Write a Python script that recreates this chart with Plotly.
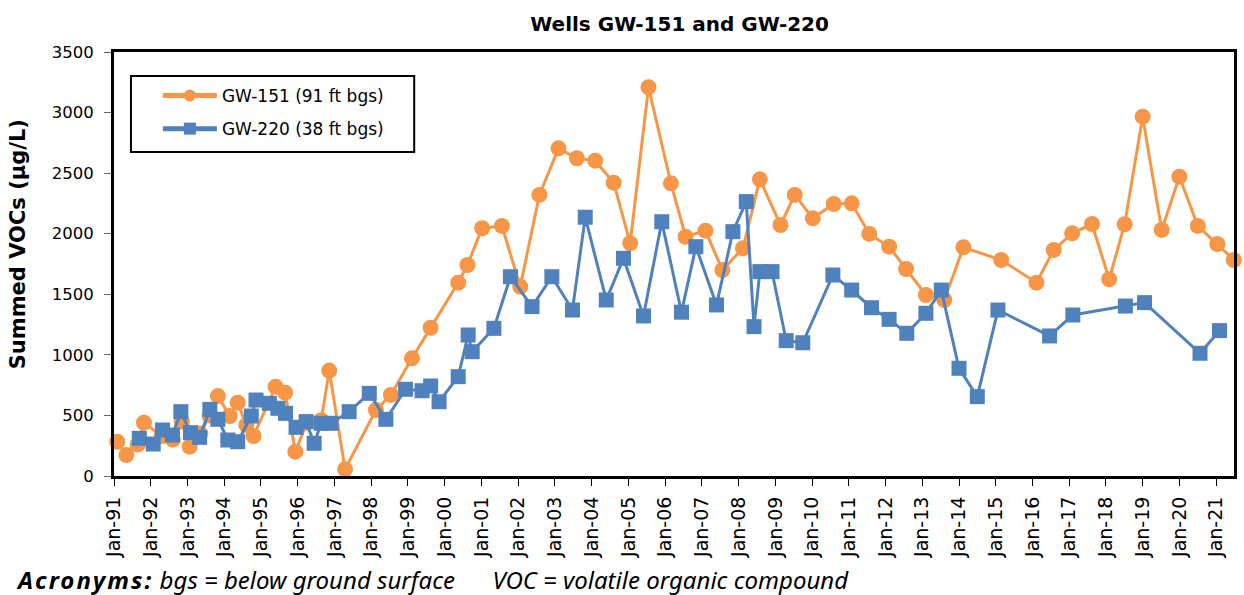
import plotly.graph_objects as go

# GW-151 (91 ft bgs) sampling results
gw151_dates = [
    "1991-02-02", "1991-05-04", "1991-08-25", "1991-10-26", "1992-04-19", "1992-08-08",
    "1992-11-06", "1993-01-22", "1993-05-08", "1993-08-08", "1993-10-30", "1994-02-24",
    "1994-05-15", "1994-08-08", "1994-10-19", "1995-05-27", "1995-08-29", "1995-12-09",
    "1996-04-01", "1996-08-22", "1996-11-10", "1997-04-16", "1998-02-17", "1998-07-16",
    "1999-02-10", "1999-08-15", "2000-05-15", "2000-08-15", "2001-01-08", "2001-07-24",
    "2002-01-22", "2002-07-31", "2003-02-06", "2003-08-08", "2004-02-06", "2004-08-08",
    "2005-01-19", "2005-07-20", "2006-02-28", "2006-07-24", "2007-02-06", "2007-07-24",
    "2008-02-14", "2008-07-31", "2009-02-21", "2009-07-13", "2010-01-08", "2010-08-04",
    "2011-01-30", "2011-07-24", "2012-02-06", "2012-07-24", "2013-02-06", "2013-08-08",
    "2014-02-14", "2015-02-24", "2016-02-10", "2016-07-31", "2017-01-30", "2017-08-15",
    "2018-02-02", "2018-07-06", "2019-01-01", "2019-07-09", "2020-01-01", "2020-07-02",
    "2021-01-12", "2021-06-25",
]
gw151_vocs = [
    283, 173, 260, 440, 330, 300,
    450, 242, 350, 500, 660, 495,
    605, 420, 330, 737, 688, 201,
    440, 460, 870, 55, 545, 669,
    971, 1224, 1596, 1742, 2045, 2064,
    1563, 2320, 2705, 2623, 2603, 2421,
    1921, 3209, 2416, 1975, 2025, 1700,
    1880, 2449, 2072, 2320, 2127, 2245,
    2251, 1998, 1893, 1709, 1494, 1453,
    1888, 1783, 1596, 1866, 2003, 2080,
    1624, 2078, 2966, 2031, 2471, 2064,
    1915, 1783,
]

# GW-220 (38 ft bgs) sampling results
gw220_dates = [
    "1991-09-09", "1992-01-26", "1992-04-27", "1992-08-04", "1992-10-27", "1993-01-30",
    "1993-05-01", "1993-08-11", "1993-10-30", "1994-02-06", "1994-05-15", "1994-09-27",
    "1994-11-13", "1995-03-26", "1995-06-18", "1995-09-02", "1995-12-16", "1996-03-25",
    "1996-06-13", "1996-08-22", "1996-11-28", "1997-05-27", "1997-12-13", "1998-05-27",
    "1998-12-09", "1999-05-22", "1999-08-15", "1999-11-07", "2000-05-15", "2000-08-22",
    "2000-10-01", "2001-05-05", "2001-10-16", "2002-05-19", "2002-12-02", "2003-06-25",
    "2003-10-30", "2004-05-26", "2004-11-13", "2005-05-31", "2005-11-29", "2006-06-13",
    "2006-11-03", "2007-05-27", "2007-11-06", "2008-03-18", "2008-06-03", "2008-07-31",
    "2008-11-29", "2009-04-19", "2009-10-01", "2010-07-27", "2011-01-30", "2011-08-15",
    "2012-02-06", "2012-07-31", "2013-02-06", "2013-07-09", "2014-01-01", "2014-07-02",
    "2015-01-23", "2016-06-20", "2017-02-06", "2018-07-13", "2019-01-19", "2020-07-24",
    "2021-02-03",
]
gw220_vocs = [
    311, 264, 380, 338, 531, 358,
    319, 550, 468, 297, 283, 495,
    627, 600, 559, 517, 402, 449,
    270, 435, 435, 531, 682, 468,
    716, 704, 743, 613, 820, 1164,
    1026, 1219, 1645, 1398, 1645, 1370,
    2136, 1453, 1797, 1321, 2099, 1352,
    1893, 1412, 2017, 2265, 1233, 1687,
    1687, 1117, 1100, 1659, 1535, 1389,
    1293, 1178, 1343, 1535, 889, 655,
    1370, 1156, 1329, 1403, 1431, 1013,
    1200,
]

ORANGE = "#F79646"
BLUE = "#4F81BD"
FONT = "DejaVu Sans, Arial, sans-serif"
X_RANGE = ["1991-01-01", "2021-06-27"]
Y_RANGE = [0, 3500]

fig = go.Figure()
fig.add_trace(go.Scatter(
    x=gw151_dates, y=gw151_vocs, mode="lines+markers",
    name="GW-151 (91 ft bgs)", legendgroup="a",
    line=dict(color=ORANGE, width=3),
    marker=dict(symbol="circle", size=16, color=ORANGE),
    cliponaxis=False,
))
fig.add_trace(go.Scatter(
    x=gw220_dates, y=gw220_vocs, mode="lines+markers",
    name="GW-220 (38 ft bgs)", legendgroup="b",
    line=dict(color=BLUE, width=3),
    marker=dict(symbol="square", size=15, color=BLUE),
    cliponaxis=False,
))

# legend frame
fig.add_shape(
    type="rect", xref="paper", yref="paper",
    x0=(131 - 114) / 1123, x1=(415 - 114) / 1123,
    y0=(476 - 152) / 424, y1=(476 - 76) / 424,
    line=dict(color="black", width=2), fillcolor="white", layer="below",
)

fig.update_layout(
    width=1244, height=595,
    margin=dict(l=114, r=7, t=52, b=119),
    paper_bgcolor="white", plot_bgcolor="white",
    font=dict(family=FONT, color="black"),
    title=dict(
        text="<b>Wells GW-151 and GW-220</b>",
        x=0.505, xref="paper", xanchor="center", y=0.96, yref="container", yanchor="middle",
        font=dict(size=20, family=FONT),
    ),
    showlegend=True,
    legend=dict(
        x=(158 - 114) / 1123, y=(476 - 78) / 424, xanchor="left", yanchor="top",
        borderwidth=0, bgcolor="rgba(0,0,0,0)",
        font=dict(size=17, family=FONT),
        itemwidth=54, tracegroupgap=8, itemsizing="constant",
    ),
    xaxis=dict(
        type="date", range=X_RANGE,
        tick0="1991-01-01", dtick="M12", tickformat="%b-%y",
        tickangle=-90, ticks="outside", ticklen=7, tickwidth=1, tickcolor="black",
        tickfont=dict(size=19, family=FONT), ticklabelstandoff=3,
        showgrid=False, zeroline=False,
        showline=True, linecolor="black", linewidth=3, mirror=True,
    ),
    xaxis2=dict(
        type="date", range=X_RANGE, overlaying="x", anchor="y",
        tick0="1991-01-01", dtick="M12",
        ticks="inside", ticklen=5, tickwidth=1, tickcolor="black",
        showticklabels=False, showgrid=False, zeroline=False, showline=False,
    ),
    yaxis=dict(
        range=Y_RANGE, dtick=500,
        ticks="outside", ticklen=7, tickwidth=1, tickcolor="#666666",
        tickfont=dict(size=16.5, family=FONT), ticklabelstandoff=7,
        showgrid=False, zeroline=False,
        showline=True, linecolor="black", linewidth=3, mirror=True,
    ),
    yaxis2=dict(
        range=Y_RANGE, dtick=500, overlaying="y", anchor="x", side="left",
        ticks="inside", ticklen=6, tickwidth=1, tickcolor="#666666",
        showticklabels=False, showgrid=False, zeroline=False, showline=False,
    ),
)

# y-axis title
fig.add_annotation(
    xref="paper", yref="paper", x=(18 - 114) / 1123, y=(476 - 244) / 424,
    xanchor="center", yanchor="middle", textangle=-90, showarrow=False,
    text="<b>Summed VOCs (µg/L)</b>",
    font=dict(size=21, family=FONT, color="black"),
)

# footnote
fig.add_annotation(
    xref="paper", yref="paper", x=-0.0891, y=-0.245, xanchor="left", yanchor="middle",
    showarrow=False,
    text=("<span style=\"letter-spacing:2px\"><b><i>Acronyms:</i></b></span>"
          "<i> bgs = below ground surface\u00a0\u00a0\u00a0\u00a0\u00a0\u00a0VOC = volatile organic compound</i>"),
    font=dict(size=24, family="Noto Sans, sans-serif", color="black"),
)

fig.write_html("out.html")
